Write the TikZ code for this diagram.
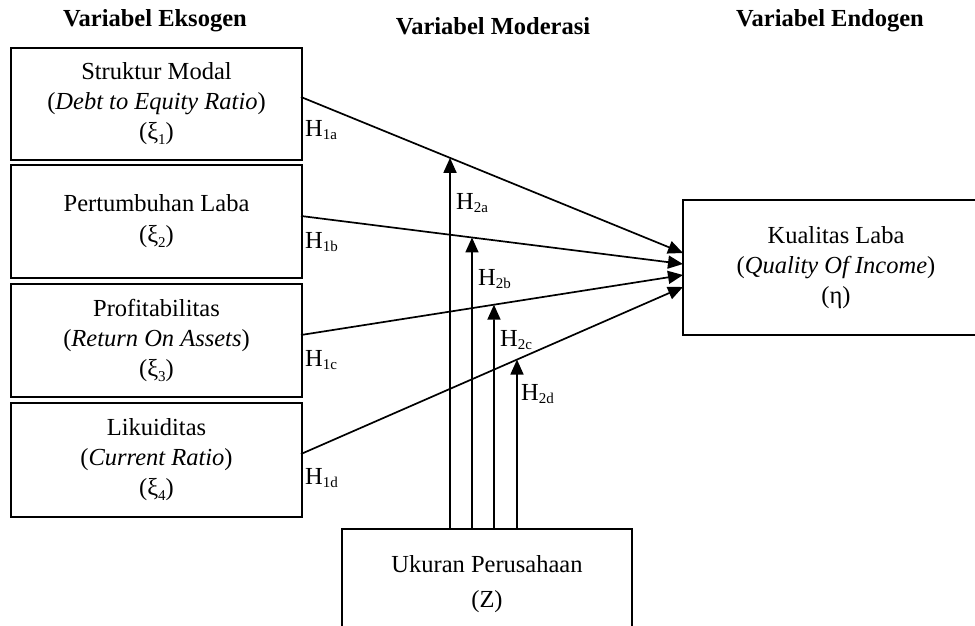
\documentclass[tikz,border=0pt]{standalone}
\usepackage{fontspec}
\setmainfont{Liberation Serif}
\usetikzlibrary{arrows.meta}
\newcommand\sbs[1]{\raisebox{-0.3ex}{\fontsize{15}{15}\selectfont #1}}
\newcommand\xsb[1]{\raisebox{-0.45ex}{\fontsize{15}{15}\selectfont #1}}
\begin{document}
\begin{tikzpicture}[x=1pt,y=-1pt,
  every node/.style={font=\fontsize{24.5}{30}\selectfont},
  box/.style={draw,line width=1.8pt,rectangle,inner sep=0pt,align=center},
  head/.style={font=\fontsize{24.5}{30}\selectfont\bfseries,anchor=base},
  hlab/.style={anchor=west,inner sep=0pt},
  conn/.style={line width=1.7pt,-{Triangle[length=15pt,width=13pt]}},
  mod/.style={line width=1.7pt,-{Triangle[length=15pt,width=13pt]}}]
\useasboundingbox (0,0) rectangle (975,626);
\clip (0,0) rectangle (975,626);
% headers
\node[head] (h1) at (155,27) {Variabel Eksogen};
\node[head] (h2) at (493,35) {Variabel Moderasi};
\node[head] (h3) at (830,27) {Variabel Endogen};
% left boxes
\node[box,minimum width=291pt,minimum height=112pt] (x1) at (156.5,104) {Struktur Modal\\(\textit{Debt to Equity Ratio})\\(ξ\xsb{1})};
\node[box,minimum width=291pt,minimum height=113pt] (x2) at (156.5,221.5) {Pertumbuhan Laba\\[1pt](ξ\xsb{2})};
\node[box,minimum width=291pt,minimum height=113pt] (x3) at (156.5,340.5) {Profitabilitas\\(\textit{Return On Assets})\\(ξ\xsb{3})};
\node[box,minimum width=291pt,minimum height=114pt] (x4) at (156.5,460) {Likuiditas\\(\textit{Current Ratio})\\(ξ\xsb{4})};
% right box
\node[box,minimum width=306pt,minimum height=135pt] (y) at (836,267.5) {Kualitas Laba\\(\textit{Quality Of Income})\\(η)};
% bottom box
\node[box,minimum width=290pt,minimum height=140pt] (z) at (487,599) {};
\node[align=center] (zt) at (487,584) {Ukuran Perusahaan\\[5pt](Z)};
% connector endpoints
\coordinate (s1) at (301,97);
\coordinate (s2) at (301,216);
\coordinate (s3) at (301,335);
\coordinate (s4) at (301,454);
\coordinate (t1) at (683,253);
\coordinate (t2) at (683,264);
\coordinate (t3) at (683,275);
\coordinate (t4) at (683,287);
\draw[conn] (s1) -- (t1);
\draw[conn] (s2) -- (t2);
\draw[conn] (s3) -- (t3);
\draw[conn] (s4) -- (t4);
% moderator arrows
\coordinate (b1) at (450,529);
\coordinate (b2) at (472,529);
\coordinate (b3) at (494,529);
\coordinate (b4) at (517,529);
\coordinate (m1) at (intersection of s1--t1 and b1--450,0);
\coordinate (m2) at (intersection of s2--t2 and b2--472,0);
\coordinate (m3) at (intersection of s3--t3 and b3--494,0);
\coordinate (m4) at (intersection of s4--t4 and b4--517,0);
\draw[mod] (b1) -- (m1);
\draw[mod] (b2) -- (m2);
\draw[mod] (b3) -- (m3);
\draw[mod] (b4) -- (m4);
% labels
\node[hlab] (l1a) at (305,130) {H\sbs{1a}};
\node[hlab] (l1b) at (305,242) {H\sbs{1b}};
\node[hlab] (l1c) at (305,360) {H\sbs{1c}};
\node[hlab] (l1d) at (305,478) {H\sbs{1d}};
\node[hlab] (l2a) at (456,203) {H\sbs{2a}};
\node[hlab] (l2b) at (478,279) {H\sbs{2b}};
\node[hlab] (l2c) at (500,340) {H\sbs{2c}};
\node[hlab] (l2d) at (521,394) {H\sbs{2d}};
\end{tikzpicture}
\end{document}
